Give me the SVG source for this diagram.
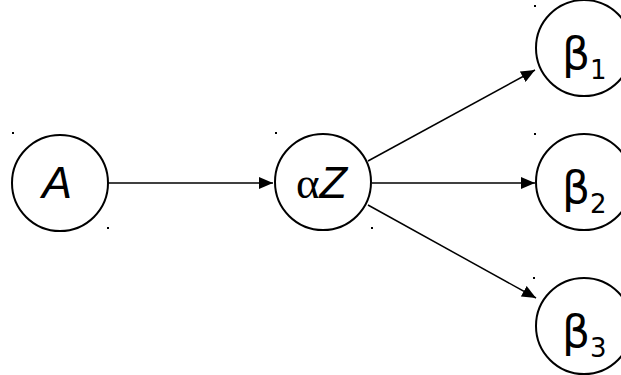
<svg xmlns="http://www.w3.org/2000/svg" width="621" height="375" viewBox="0 0 621 375">
<defs>
<marker id="ah" viewBox="0 0 14 12" refX="14" refY="6" markerWidth="14" markerHeight="12" markerUnits="userSpaceOnUse" orient="auto">
<path d="M0,0 L14,6 L0,12 z" fill="#000"/>
</marker>
<style>
.n{fill:#fff;stroke:#000;stroke-width:2}
.e{fill:none;stroke:#000;stroke-width:1.5;marker-end:url(#ah)}
.d{fill:#000}
.t{font-family:"Liberation Sans",Arial,sans-serif;font-size:45px;fill:#000}
.b{font-family:"DejaVu Sans",sans-serif;font-size:44px;fill:#000}
.s{font-family:"DejaVu Sans",sans-serif;font-size:26px;fill:#000}
</style>
</defs>
<rect width="621" height="375" fill="#fff"/>
<g id="edges">
<line class="e" x1="108" y1="183" x2="273" y2="183"/>
<line class="e" x1="368" y1="161" x2="535" y2="70"/>
<line class="e" x1="372" y1="183" x2="535" y2="183"/>
<line class="e" x1="368" y1="205" x2="536" y2="298"/>
</g>
<g id="A">
<circle class="n" cx="60" cy="183" r="48"/>
<text class="t" x="57" y="198" text-anchor="middle" font-style="italic">A</text>
<rect class="d" x="12" y="132" width="2" height="2"/>
<rect class="d" x="107" y="227" width="2" height="2"/>
</g>
<g id="alphaZ">
<circle class="n" cx="323" cy="182" r="48"/>
<text class="t" x="296" y="198"><tspan font-family="Liberation Serif,serif">α</tspan><tspan font-style="italic">Z</tspan></text>
<rect class="d" x="275" y="132" width="2" height="2"/>
<rect class="d" x="371" y="227" width="2" height="2"/>
</g>
<g id="beta1">
<circle class="n" cx="584" cy="48" r="48"/>
<text class="b" x="562" y="69">β</text>
<text class="s" x="590" y="79">1</text>
<rect class="d" x="534" y="5" width="2" height="2"/>
</g>
<g id="beta2">
<circle class="n" cx="584" cy="182" r="48"/>
<text class="b" x="562" y="203">β</text>
<text class="s" x="590" y="213">2</text>
<rect class="d" x="534" y="133" width="2" height="2"/>
</g>
<g id="beta3">
<circle class="n" cx="584" cy="326" r="48"/>
<text class="b" x="562" y="347">β</text>
<text class="s" x="590" y="357">3</text>
<rect class="d" x="533" y="277" width="2" height="2"/>
</g>
</svg>
